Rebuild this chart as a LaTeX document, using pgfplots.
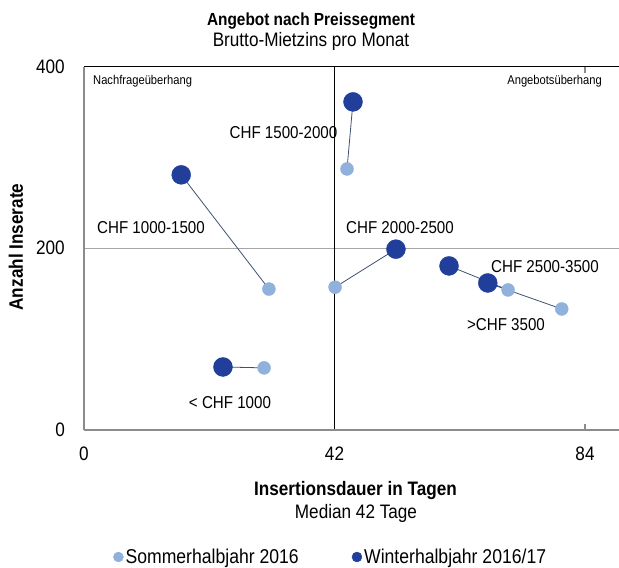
\documentclass[border=0pt]{standalone}
\usepackage{pgfplots}
\pgfplotsset{compat=1.18}
\usepackage{fontspec}
\setmainfont{Liberation Sans}[FakeStretch=0.88]
\definecolor{summer}{HTML}{8FB1DB}
\definecolor{winter}{HTML}{213F9A}
\definecolor{conn}{HTML}{3E5270}
\definecolor{axgray}{HTML}{8C8C8C}
\definecolor{midgray}{HTML}{A6A6A6}
\newcommand{\fs}[1]{\fontsize{#1}{#1}\selectfont}
\begin{document}
\begin{tikzpicture}
\path[use as bounding box] (-84pt,-138.5pt) rectangle (535pt,429.5pt);
\begin{axis}[
  scale only axis, width=535pt, height=362.5pt,
  xmin=0, xmax=89.7, ymin=0, ymax=400,
  clip=false,
  axis line style={draw=none},
  xtick={0,42,84}, ytick={0,200,400},
  /pgf/number format/assume math mode=true,
  tick label style={font=\fs{19.5}},
  xtick style={draw=axgray, line width=1.2pt},
  major tick length=6pt,
  tick align=inside,
  ytick style={draw=none},
  xticklabel style={anchor=north, inner sep=0pt, yshift=-17pt},
  yticklabel style={anchor=east, inner sep=0pt, xshift=-19pt},
  legend columns=2,
  legend style={at={(rel axis cs:0.0542,-0.3517)}, anchor=west, draw=none, fill=none, inner sep=0pt, font=\fs{20}, /tikz/every even column/.append style={column sep=51pt}},
  legend cell align=left,
  legend image code/.code={\fill[#1] (-3pt,0pt) circle (5pt);},
]
\draw[midgray, line width=1.5pt] (axis cs:0,200) -- (axis cs:89.7,200);
\draw[black, line width=0.9pt] (axis cs:42,0) -- (axis cs:42,400);
\draw[axgray, line width=2pt] (axis cs:0,0) -- (axis cs:0,400);
\draw[axgray, line width=2pt] (axis cs:0,0) -- (axis cs:89.7,0);
\draw[black, line width=1pt] (axis cs:0,400) -- (axis cs:89.7,400);

\addplot[only marks, mark=*, color=summer, mark size=6.5pt] coordinates {(30.2,68) (31.0,155) (44.1,287.5) (42.1,157) (71.1,154) (80.1,133)};
\addlegendentry{Sommerhalbjahr 2016}
\addplot[only marks, mark=*, color=winter, mark size=9.5pt] coordinates {(23.3,69) (16.3,281) (45.1,361.5) (52.3,199) (61.2,180.5) (67.7,161.7)};
\addlegendentry{Winterhalbjahr 2016/17}

\addplot[conn, line width=0.8pt, forget plot] coordinates {(30.2,68) (23.3,69)};
\addplot[conn, line width=0.8pt, forget plot] coordinates {(31.0,155) (16.3,281)};
\addplot[conn, line width=0.8pt, forget plot] coordinates {(44.1,287.5) (45.1,361.5)};
\addplot[conn, line width=0.8pt, forget plot] coordinates {(42.1,157) (52.3,199)};
\addplot[conn, line width=0.8pt, forget plot] coordinates {(71.1,154) (61.2,180.5)};
\addplot[conn, line width=0.8pt, forget plot] coordinates {(80.1,133) (67.7,161.7)};
\end{axis}

% titles
\node[anchor=base, font=\bfseries\fs{17.5}] at (227pt,403.5pt) {Angebot nach Preissegment};
\node[anchor=base, font=\fs{19.5}] at (227pt,382.5pt) {Brutto-Mietzins pro Monat};
\node[anchor=base, font=\bfseries\fs{19.5}] at (271.5pt,-66.5pt) {Insertionsdauer in Tagen};
\node[anchor=base, font=\fs{19.5}] at (272pt,-88.5pt) {Median 42 Tage};
\node[anchor=base, rotate=90, font=\bfseries\fs{19.5}] at (-61pt,182.5pt) {Anzahl Inserate};

% corner labels
\node[anchor=base west, inner sep=0pt, font=\fs{12.7}] at (9pt,345pt) {Nachfrageüberhang};
\node[anchor=base east, inner sep=0pt, font=\fs{12.7}] at (518pt,345pt) {Angebotsüberhang};

% data labels
\node[inner sep=0pt, font=\fs{17.2}] at (199.5pt,296.5pt) {CHF 1500-2000};
\node[inner sep=0pt, font=\fs{17.2}] at (67pt,201.5pt) {CHF 1000-1500};
\node[inner sep=0pt, font=\fs{17.2}] at (316pt,201.5pt) {CHF 2000-2500};
\node[inner sep=0pt, font=\fs{17.2}] at (461pt,162.5pt) {CHF 2500-3500};
\node[inner sep=0pt, font=\fs{17.2}] at (422pt,104.5pt) {>CHF 3500};
\node[inner sep=0pt, font=\fs{17.2}] at (146pt,26.5pt) {< CHF 1000};
\end{tikzpicture}
\end{document}
